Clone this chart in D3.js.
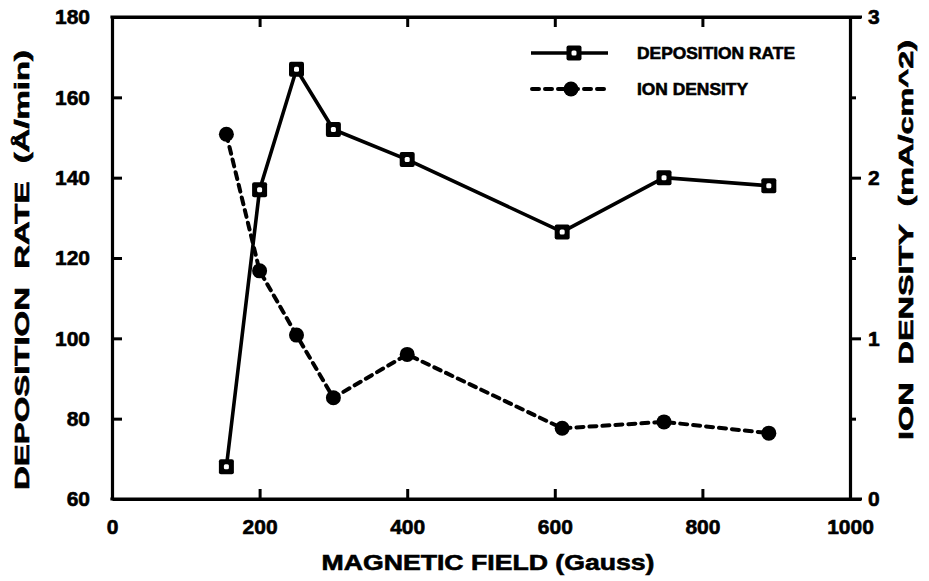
<!DOCTYPE html>
<html>
<head>
<meta charset="utf-8">
<script src="https://cdn.jsdelivr.net/npm/d3@7/dist/d3.min.js"></script>
<style>
  html, body { margin: 0; padding: 0; background: #fff; }
  svg text { font-family: "Liberation Sans", Arial, sans-serif; font-weight: bold; fill: #000;
             stroke: #000; stroke-width: 0.6px; }
</style>
</head>
<body>
<svg id="chart" width="929" height="581"></svg>
<script>
// Magnetic field (Gauss) at each measurement
const field = [155, 200, 250, 300, 400, 610, 748, 890];
// Deposition rate, Å/min (left axis)
const depositionRate = [68, 137, 167, 152, 144.5, 126.5, 140, 138];
// Ion density, mA/cm^2 (right axis)
const ionDensity = [2.27, 1.42, 1.02, 0.63, 0.90, 0.44, 0.48, 0.41];

const xTicks = [0, 200, 400, 600, 800, 1000];
const leftTicks = [60, 80, 100, 120, 140, 160, 180];
const rightTicks = [0, 1, 2, 3];
const rightMinorTicks = [0.5, 1.5, 2.5];

const legendLabels = ["DEPOSITION RATE", "ION DENSITY"];
const xTitle = "MAGNETIC FIELD (Gauss)";
const leftTitle = "DEPOSITION  RATE  (Å/min)";
const rightTitle = "ION  DENSITY  (mA/cm^2)";

const svg = d3.select("#chart");
const L = 112, R = 850, T = 17, B = 499;

const x = d3.scaleLinear().domain([0, 1000]).range([L, R]);
const yL = d3.scaleLinear().domain([60, 180]).range([B, T]);
const yR = d3.scaleLinear().domain([0, 3]).range([B, T]);

function styleAxis(g, fontSize) {
  g.attr("font-family", null).attr("font-size", null);
  g.select(".domain").attr("stroke", "#000").attr("stroke-width", 3.2);
  g.selectAll(".tick line").attr("stroke", "#000").attr("stroke-width", 3);
  g.selectAll(".tick text")
    .style("font-size", fontSize + "px")
    .attr("fill", "#000");
}

// Frame extensions past the right axis (top and bottom rules)
svg.append("line").attr("x1", L - 1.6).attr("x2", R + 12).attr("y1", T).attr("y2", T)
  .attr("stroke", "#000").attr("stroke-width", 3.2);
svg.append("line").attr("x1", L - 1.6).attr("x2", R + 12).attr("y1", B).attr("y2", B)
  .attr("stroke", "#000").attr("stroke-width", 3.2);

// Bottom axis: inward ticks, labels below
svg.append("g").attr("transform", `translate(0,${B})`)
  .call(d3.axisBottom(x).tickValues(xTicks).tickSizeInner(-10).tickSizeOuter(0).tickPadding(20)
    .tickFormat(d3.format("d")))
  .call(g => styleAxis(g, 21))
  .call(g => g.selectAll(".tick line").filter(d => d === 0 || d === 1000).remove());

// Top border with inward ticks
svg.append("g").attr("transform", `translate(0,${T})`)
  .call(d3.axisTop(x).tickValues([200, 400, 600, 800]).tickSizeInner(-10).tickSizeOuter(0).tickFormat(""))
  .call(g => styleAxis(g, 21));

// Left axis: inward ticks
svg.append("g").attr("transform", `translate(${L},0)`)
  .call(d3.axisLeft(yL).tickValues(leftTicks).tickSizeInner(-10).tickSizeOuter(0).tickPadding(22)
    .tickFormat(d3.format("d")))
  .call(g => styleAxis(g, 21))
  .call(g => g.selectAll(".tick line").filter(d => d === 60 || d === 180).remove());

// Right axis: outward ticks
svg.append("g").attr("transform", `translate(${R},0)`)
  .call(d3.axisRight(yR).tickValues(rightTicks).tickSizeInner(11).tickSizeOuter(0).tickPadding(7)
    .tickFormat(d3.format("d")))
  .call(g => styleAxis(g, 21));

// Right axis minor ticks
svg.append("g").attr("transform", `translate(${R},0)`)
  .call(d3.axisRight(yR).tickValues(rightMinorTicks).tickSizeInner(6).tickSizeOuter(0).tickFormat(""))
  .call(g => g.select(".domain").remove())
  .call(g => g.selectAll(".tick line").attr("stroke", "#000").attr("stroke-width", 3));

// Series lines
const depLine = d3.line().x((d, i) => x(field[i])).y(d => yL(d));
const ionLine = d3.line().x((d, i) => x(field[i])).y(d => yR(d));

svg.append("path").datum(depositionRate).attr("d", depLine)
  .attr("fill", "none").attr("stroke", "#000").attr("stroke-width", 3.6)
  .attr("stroke-linejoin", "round");

svg.append("path").datum(ionDensity).attr("d", ionLine)
  .attr("fill", "none").attr("stroke", "#000").attr("stroke-width", 4)
  .attr("stroke-dasharray", "7,6").attr("stroke-linecap", "round");

// Markers
function squareMarker(g, cx, cy) {
  g.append("rect").attr("x", cx - 7.5).attr("y", cy - 7.5).attr("width", 15).attr("height", 15)
    .attr("rx", 2).attr("fill", "#000");
  g.append("rect").attr("x", cx - 2.5).attr("y", cy - 2.5).attr("width", 5).attr("height", 5)
    .attr("rx", 1.5).attr("fill", "#fff");
}
function dotMarker(g, cx, cy) {
  g.append("circle").attr("cx", cx).attr("cy", cy).attr("r", 7.5).attr("fill", "#000");
}

const markers = svg.append("g");
depositionRate.forEach((d, i) => squareMarker(markers, x(field[i]), yL(d)));
ionDensity.forEach((d, i) => dotMarker(markers, x(field[i]), yR(d)));

// Legend
const lg = svg.append("g");
lg.append("line").attr("x1", 531).attr("x2", 608).attr("y1", 53).attr("y2", 53)
  .attr("stroke", "#000").attr("stroke-width", 3.6);
squareMarker(lg, 574, 53);
lg.append("line").attr("x1", 532).attr("x2", 608).attr("y1", 89).attr("y2", 89)
  .attr("stroke", "#000").attr("stroke-width", 4).attr("stroke-dasharray", "7,6")
  .attr("stroke-linecap", "round");
dotMarker(lg, 571, 89);
lg.append("text").attr("x", 637).attr("y", 59).text(legendLabels[0])
  .style("font-size", "17px").attr("textLength", 158).attr("lengthAdjust", "spacingAndGlyphs");
lg.append("text").attr("x", 637).attr("y", 95).text(legendLabels[1])
  .style("font-size", "17px").attr("textLength", 111).attr("lengthAdjust", "spacingAndGlyphs");

// Axis titles
svg.append("text").attr("x", 488).attr("y", 570).attr("text-anchor", "middle")
  .style("font-size", "22px").attr("textLength", 333).attr("lengthAdjust", "spacingAndGlyphs")
  .text(xTitle);

svg.append("text").attr("transform", "translate(29,270) rotate(-90)").attr("text-anchor", "middle")
  .style("font-size", "20px").attr("textLength", 440).attr("lengthAdjust", "spacingAndGlyphs")
  .style("white-space", "pre")
  .text(leftTitle);

svg.append("text").attr("transform", "translate(913,240) rotate(-90)").attr("text-anchor", "middle")
  .style("font-size", "20px").attr("textLength", 400).attr("lengthAdjust", "spacingAndGlyphs")
  .style("white-space", "pre")
  .text(rightTitle);
</script>
</body>
</html>
